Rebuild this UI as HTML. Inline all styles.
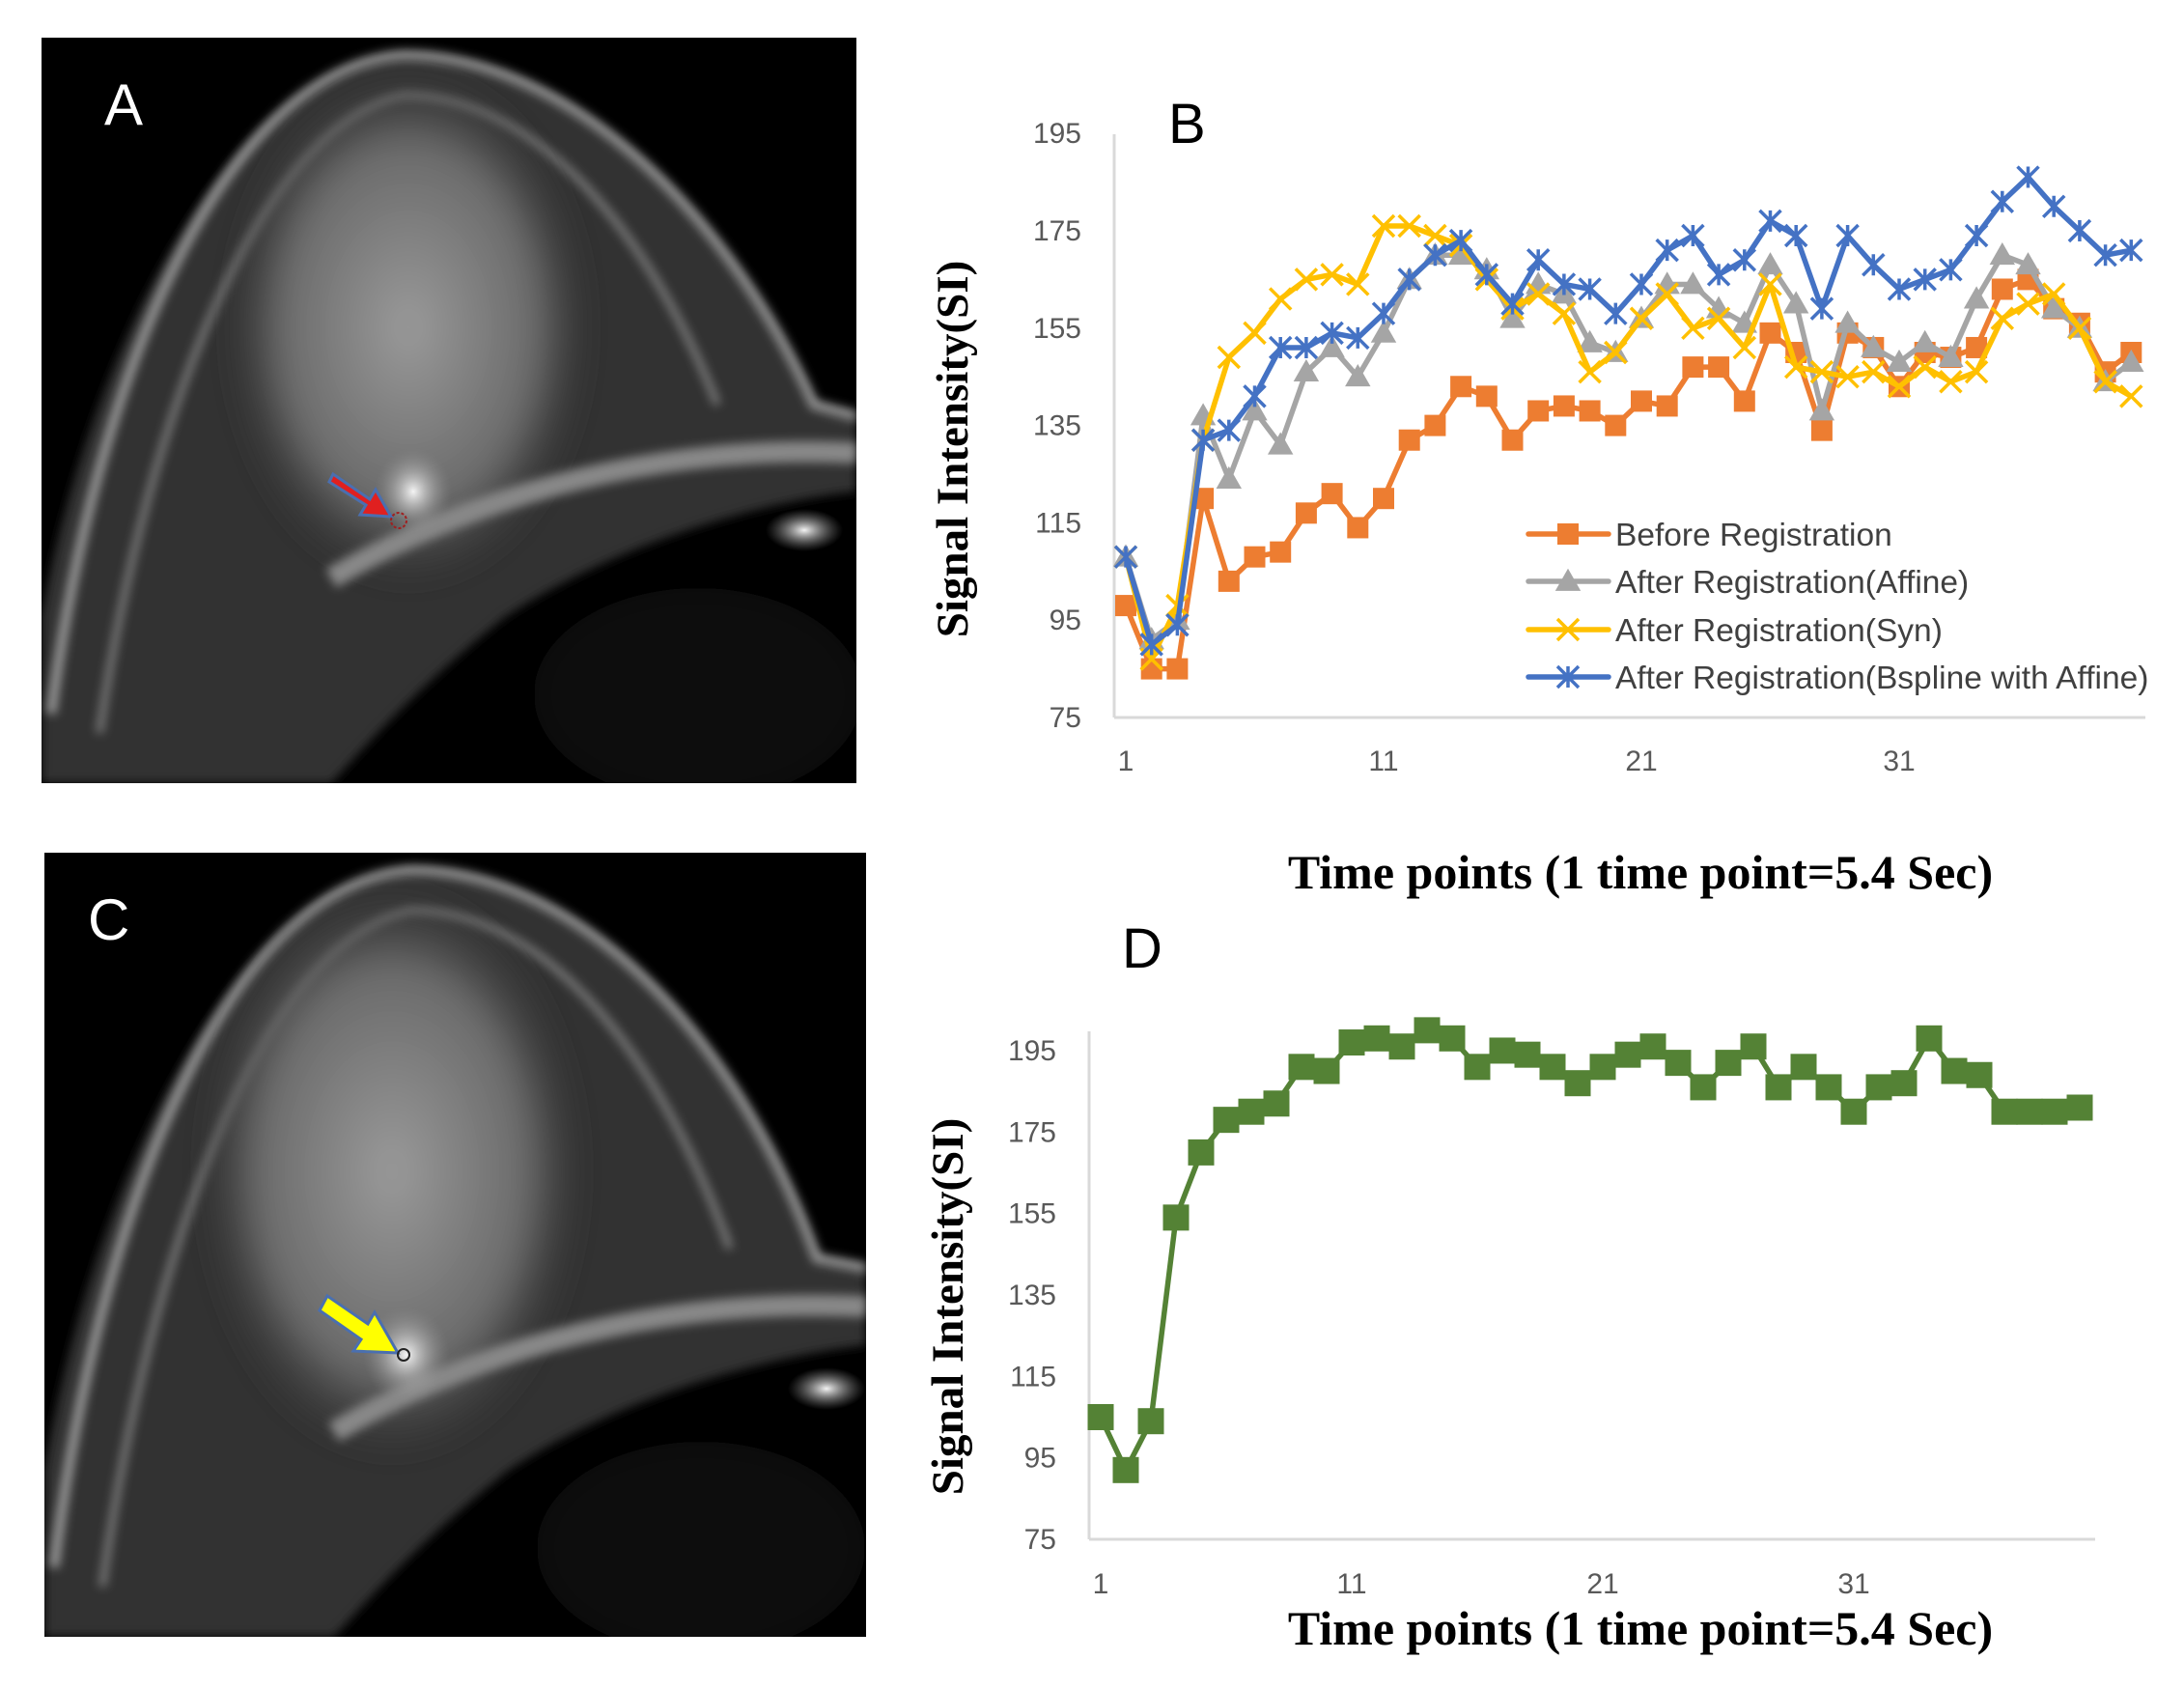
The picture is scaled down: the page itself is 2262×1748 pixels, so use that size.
<!DOCTYPE html>
<html><head><meta charset="utf-8"><style>
html,body{margin:0;padding:0;background:#fff;}
body{width:2262px;height:1748px;position:relative;overflow:hidden;}
svg{position:absolute;left:0;top:0;}
</style></head><body>
<svg id="root" width="2262" height="1748" viewBox="0 0 2262 1748" xmlns="http://www.w3.org/2000/svg">
<defs>
<filter id="bl" x="-20%" y="-20%" width="140%" height="140%"><feGaussianBlur stdDeviation="14"/></filter>
<filter id="bs" x="-20%" y="-20%" width="140%" height="140%"><feGaussianBlur stdDeviation="5"/></filter>
<radialGradient id="gl" cx="50%" cy="50%" r="50%"><stop offset="0" stop-color="#9a9a9a"/><stop offset="0.7" stop-color="#6a6a6a"/><stop offset="1" stop-color="#3a3a3a" stop-opacity="0"/></radialGradient>
<radialGradient id="spot" cx="50%" cy="50%" r="50%"><stop offset="0" stop-color="#f4f4f4"/><stop offset="1" stop-color="#888" stop-opacity="0"/></radialGradient>
<clipPath id="clipA"><rect width="844" height="772"/></clipPath>
<clipPath id="clipC"><rect width="851" height="812"/></clipPath>
</defs>

<!-- Panel A -->
<g transform="translate(43,39)">
<g clip-path="url(#clipA)">
<rect width="844" height="772" fill="#000"/>
<path d="M0,772 L0,600 C50,320 200,30 375,18 C530,18 700,160 800,380 L844,392 L844,470 C760,478 600,520 480,600 C380,680 330,740 300,772 Z" fill="#333" filter="url(#bs)"/>
<path d="M10,700 C60,320 200,30 375,18 C530,18 700,160 800,380 L844,392" fill="none" stroke="#9a9a9a" stroke-width="10" filter="url(#bs)"/>
<path d="M60,720 C110,380 230,90 375,60 C500,60 620,180 700,380" fill="none" stroke="#777" stroke-width="8" filter="url(#bs)"/>
<ellipse cx="380" cy="300" rx="190" ry="270" fill="url(#gl)" filter="url(#bl)"/>
<path d="M300,560 C450,470 650,420 844,430" fill="none" stroke="#888" stroke-width="22" filter="url(#bs)"/>
<ellipse cx="385" cy="470" rx="40" ry="45" fill="url(#spot)"/>
<ellipse cx="790" cy="510" rx="40" ry="22" fill="url(#spot)"/>
<ellipse cx="680" cy="680" rx="170" ry="110" fill="#0a0a0a" filter="url(#bl)"/>
</g>
<path d="M302,452 L340,478 L346,468 L362,496 L330,494 L336,484 L298,460 Z" fill="#e02020" stroke="#4a6fb0" stroke-width="3"/>
<circle cx="370" cy="500" r="8" fill="none" stroke="#a02020" stroke-width="2" stroke-dasharray="3,2"/>
<text x="65" y="90" font-family="Liberation Sans, sans-serif" font-size="60" fill="#fff">A</text>
</g>

<!-- Panel C -->
<g transform="translate(46,883)">
<g clip-path="url(#clipC)">
<rect width="851" height="812" fill="#000"/>
<path d="M0,812 L0,640 C50,340 200,30 380,18 C540,18 710,170 800,420 L851,430 L851,510 C760,520 600,560 480,640 C380,720 330,780 300,812 Z" fill="#333" filter="url(#bs)"/>
<path d="M10,740 C60,340 200,30 380,18 C540,18 710,170 800,420 L851,430" fill="none" stroke="#9a9a9a" stroke-width="10" filter="url(#bs)"/>
<path d="M60,760 C110,400 230,90 380,60 C510,60 630,190 710,410" fill="none" stroke="#777" stroke-width="8" filter="url(#bs)"/>
<ellipse cx="360" cy="330" rx="200" ry="300" fill="url(#gl)" filter="url(#bl)"/>
<path d="M300,600 C450,510 650,460 851,470" fill="none" stroke="#888" stroke-width="22" filter="url(#bs)"/>
<ellipse cx="375" cy="520" rx="45" ry="50" fill="url(#spot)"/>
<ellipse cx="810" cy="555" rx="40" ry="22" fill="url(#spot)"/>
<ellipse cx="680" cy="720" rx="170" ry="110" fill="#0a0a0a" filter="url(#bl)"/>
</g>
<path d="M293,459 L335,488 L342,476 L366,518 L320,516 L328,504 L285,474 Z" fill="#ffff00" stroke="#4a6fb0" stroke-width="3"/>
<circle cx="372" cy="520" r="6" fill="none" stroke="#222" stroke-width="2"/>
<text x="45" y="90" font-family="Liberation Sans, sans-serif" font-size="60" fill="#fff">C</text>
</g>

<g id="chartB"></g>
<g id="chartD"></g>
</svg>
<script>
const timePoints = Array.from({length:40},(_,i)=>i+1);
const xTickLabels = [1,11,21,31];
const yTickLabels = [75,95,115,135,155,175,195];
const seriesNames = ["Before Registration","After Registration(Affine)","After Registration(Syn)","After Registration(Bspline with Affine)"];
const beforeReg = [98,85,85,120,103,108,109,117,121,114,120,132,135,143,141,132,138,139,138,135,140,139,147,147,140,154,150,134,154,151,143,150,149,151,163,165,159,156,146,150];
const affineReg = [108,91,95,137,124,138,131,146,151,145,154,165,170,170,167,157,164,162,152,150,157,164,164,159,156,168,160,138,156,151,148,152,149,161,170,168,159,155,144,148];
const synReg = [108,87,98,132,149,154,161,165,166,164,176,176,174,172,165,159,162,158,146,150,157,162,155,157,151,164,147,146,145,146,143,147,144,146,157,160,162,155,144,141];
const bsplineReg = [108,90,94,132,134,141,151,151,154,153,158,165,170,173,166,160,169,164,163,158,164,171,174,166,169,177,174,159,174,168,163,165,167,174,181,186,180,175,170,171];
const bsplineOnly = [105,92,104,154,170,178,180,182,191,190,197,198,196,200,198,191,195,194,191,187,191,194,196,192,186,192,196,186,191,186,180,186,187,198,190,189,180,180,180,181];

const NS="http://www.w3.org/2000/svg";
function mk(parent,tag,attrs,text){const e=document.createElementNS(NS,tag);for(const k in attrs)e.setAttribute(k,attrs[k]);if(text!==undefined)e.textContent=text;parent.appendChild(e);return e;}

function drawChart(g,cfg){
  const xs=v=>cfg.x0+(v-1)*cfg.dx;
  const ys=v=>cfg.y75-(v-75)*cfg.dy;
  const ax=mk(g,'line',{x1:cfg.left,y1:cfg.top,x2:cfg.left,y2:cfg.y75,stroke:'#d9d9d9','stroke-width':3});
  
  
  const bx=mk(g,'line',{x1:cfg.left,y1:cfg.y75,x2:cfg.right,y2:cfg.y75,stroke:'#d9d9d9','stroke-width':3});
  
  
  yTickLabels.forEach(v=>{
    const t=mk(g,'text',{x:cfg.ylabX,y:ys(v)+10,'text-anchor':'end','font-family':'Liberation Sans, sans-serif','font-size':30,fill:'#595959'},v);
    
    
  });
  xTickLabels.forEach(v=>{
    const t=mk(g,'text',{x:xs(v),y:cfg.xlabY,'text-anchor':'middle','font-family':'Liberation Sans, sans-serif','font-size':30,fill:'#595959'},v);
    
    
  });
  const yt=mk(g,'text',{transform:`translate(${cfg.ytX},${cfg.ytY}) rotate(-90)`,'text-anchor':'middle','font-family':'Liberation Serif, serif','font-weight':'bold','font-size':47,fill:'#000'},'Signal Intensity(SI)');
  
  
  const xt=mk(g,'text',{x:1699,y:cfg.xtY,'text-anchor':'middle','font-family':'Liberation Serif, serif','font-weight':'bold','font-size':50,fill:'#000','xml:space':'preserve'},'Time points  (1 time point=5.4 Sec)');
  
  
  const pl=mk(g,'text',{x:cfg.plX,y:cfg.plY,'font-family':'Liberation Sans, sans-serif','font-size':58,fill:'#000'},cfg.label);
  
  
  return {xs,ys};
}

function marker(g,type,x,y,c,s){
  let m;
  if(type==='sq') m=mk(g,'rect',{x:x-s/2,y:y-s/2,width:s,height:s,fill:c});
  else if(type==='tri') m=mk(g,'path',{d:`M${x},${y-s*0.6}L${x+s*0.6},${y+s*0.45}L${x-s*0.6},${y+s*0.45}Z`,fill:c});
  else if(type==='x') m=mk(g,'path',{d:`M${x-s/2},${y-s/2}L${x+s/2},${y+s/2}M${x+s/2},${y-s/2}L${x-s/2},${y+s/2}`,stroke:c,'stroke-width':3.5});
  else m=mk(g,'path',{d:`M${x-s/2},${y-s/2}L${x+s/2},${y+s/2}M${x+s/2},${y-s/2}L${x-s/2},${y+s/2}M${x},${y-s/2}L${x},${y+s/2}`,stroke:c,'stroke-width':3.5});
  return m;
}

function drawSeries(g,sc,data,color,type,size,name){
  const sg=mk(g,'g',{});
  
  
  const pts=data.map((v,i)=>sc.xs(timePoints[i])+','+sc.ys(v)).join(' ');
  mk(sg,'polyline',{points:pts,fill:'none',stroke:color,'stroke-width':5.5,'stroke-linejoin':'round'});
  data.forEach((v,i)=>{
    const m=marker(sg,type,sc.xs(timePoints[i]),sc.ys(v),color,size);
    
    
  });
}

const gB=document.getElementById('chartB');
const scB=drawChart(gB,{left:1154,right:2222,top:139,y75:743,x0:1166,dx:26.7,dy:5.04,ylabX:1120,xlabY:798,ytX:1002,ytY:465,xtY:920,plX:1210,plY:148,label:'B'});
const colors=['#ED7D31','#A5A5A5','#FFC000','#4472C4'];
const types=['sq','tri','x','ast'];
const allB=[beforeReg,affineReg,synReg,bsplineReg];
allB.forEach((d,i)=>drawSeries(gB,scB,d,colors[i],types[i],22,'series-'+['before','affine','syn','bspline'][i]));
const legY=[553,602,652,701];
seriesNames.forEach((n,i)=>{
  const lg=mk(gB,'g',{});
  
  
  mk(lg,'line',{x1:1583,y1:legY[i],x2:1666,y2:legY[i],stroke:colors[i],'stroke-width':5.5,'stroke-linecap':'round'});
  marker(lg,types[i],1624,legY[i],colors[i],22);
  mk(lg,'text',{x:1673,y:legY[i]+12,'font-family':'Liberation Sans, sans-serif','font-size':33.5,fill:'#404040'},n);
});

const gD=document.getElementById('chartD');
const scD=drawChart(gD,{left:1128,right:2170,top:1068,y75:1594,x0:1140,dx:26,dy:4.217,ylabX:1094,xlabY:1650,ytX:997,ytY:1353,xtY:1703,plX:1162,plY:1002,label:'D'});
drawSeries(gD,scD,bsplineOnly,'#548235','sq',27,'series-bspline-only');
</script>
</body></html>
